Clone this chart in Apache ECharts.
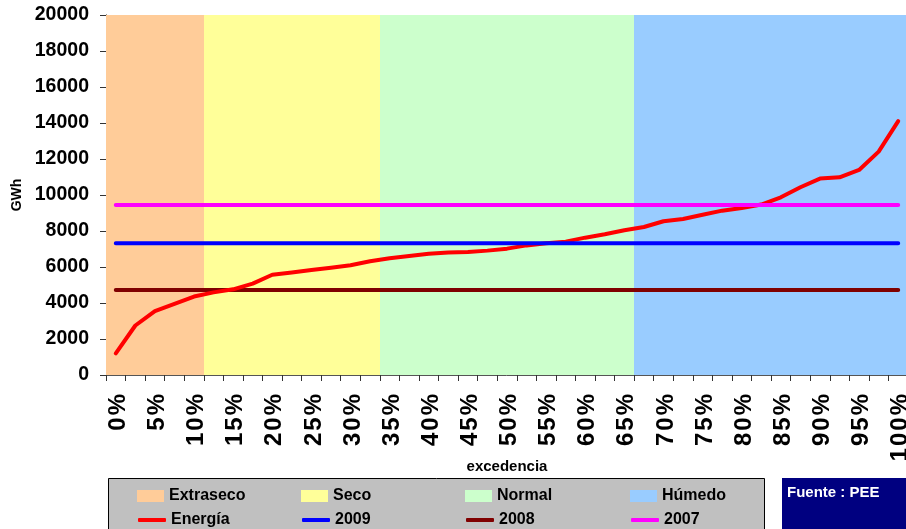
<!DOCTYPE html>
<html>
<head>
<meta charset="utf-8">
<script src="https://cdn.jsdelivr.net/npm/echarts@6/dist/echarts.min.js"></script>
<style>
  html, body { margin: 0; padding: 0; background: #ffffff; overflow: hidden; }
  #chart { width: 906px; height: 529px; }
</style>
</head>
<body>
<div id="chart"></div>
<script>
// Exceedance probability categories (every 2.5 %)
const categories = [
  '0%', '2.5%', '5%', '7.5%', '10%', '12.5%', '15%', '17.5%', '20%', '22.5%',
  '25%', '27.5%', '30%', '32.5%', '35%', '37.5%', '40%', '42.5%', '45%', '47.5%',
  '50%', '52.5%', '55%', '57.5%', '60%', '62.5%', '65%', '67.5%', '70%', '72.5%',
  '75%', '77.5%', '80%', '82.5%', '85%', '87.5%', '90%', '92.5%', '95%', '97.5%',
  '100%'
];

// Energy (GWh) for each exceedance level
const energia = [
  1200, 2750, 3550, 3950, 4360, 4590, 4760, 5080, 5570, 5700,
  5830, 5960, 6100, 6320, 6490, 6610, 6740, 6810, 6830, 6910,
  7020, 7200, 7320, 7410, 7630, 7820, 8040, 8220, 8540, 8670,
  8900, 9130, 9280, 9470, 9870, 10430, 10910, 10980, 11390, 12410,
  14100
];

// Annual energy of reference years (GWh)
const yearNames = ['2009', '2008', '2007'];
const yearValues = [7320, 4720, 9450];

// Hydrological zones: first and last category covered by each one
const zoneNames = ['Extraseco', 'Seco', 'Normal', 'Húmedo'];
const zoneFirstCategory = ['0%', '12.5%', '35%', '67.5%'];
const zoneLastCategory = ['10%', '32.5%', '65%', '100%'];
const zoneTop = 20000;

// Styles
const zoneColors = ['#FFCC99', '#FFFF99', '#CCFFCC', '#99CCFF'];
const yearColors = { '2009': '#0000FF', '2008': '#800000', '2007': '#FF00FF' };
const FONT = "'Liberation Sans', Arial, sans-serif";

const chart = echarts.init(document.getElementById('chart'), null, { renderer: 'canvas' });

// Each zone is one full-band rectangle spanning its categories
function renderZone(params, api) {
  const first = api.value(0);
  const last = api.value(1);
  const topPt = api.coord([first, api.value(2)]);
  const endPt = api.coord([last, 0]);
  const band = api.size([1, 0])[0];
  const x0 = Math.round(topPt[0] - band / 2);
  const x1 = Math.round(endPt[0] + band / 2);
  return {
    type: 'rect',
    shape: { x: x0, y: topPt[1], width: x1 - x0, height: endPt[1] - topPt[1] },
    style: { fill: api.visual('color') }
  };
}

const zoneSeries = zoneNames.map((name, z) => ({
  name,
  type: 'custom',
  renderItem: renderZone,
  data: [[categories.indexOf(zoneFirstCategory[z]), categories.indexOf(zoneLastCategory[z]), zoneTop]],
  encode: { x: [0, 1], y: 2 },
  silent: true,
  clip: false,
  itemStyle: { color: zoneColors[z] },
  emphasis: { disabled: true },
  z: 1
}));

const yearSeries = yearNames.map((name, k) => ({
  name,
  type: 'line',
  data: categories.map(() => yearValues[k]),
  symbol: 'none',
  silent: true,
  lineStyle: { color: yearColors[name], width: 4, cap: 'round' },
  itemStyle: { color: yearColors[name] },
  emphasis: { disabled: true },
  z: name === '2008' ? 2 : 4
}));

const energiaSeries = {
  name: 'Energía',
  type: 'line',
  data: energia,
  symbol: 'none',
  silent: true,
  lineStyle: { color: '#FF0000', width: 4, cap: 'round', join: 'round' },
  itemStyle: { color: '#FF0000' },
  emphasis: { disabled: true },
  z: 3
};

// One legend per item so that they line up in a fixed 4-column table
const legendCols = [137, 301, 465, 630];
const legendText = { fontFamily: FONT, fontSize: 16, fontWeight: 'bold', color: '#000000' };
const legends = [];
zoneNames.forEach((name, i) => legends.push({
  data: [{ name, icon: 'rect' }],
  left: legendCols[i], top: 488, padding: 0,
  itemWidth: 27, itemHeight: 12,
  selectedMode: false,
  textStyle: legendText
}));
['Energía', '2009', '2008', '2007'].forEach((name, i) => legends.push({
  data: [{ name, icon: 'roundRect' }],
  left: legendCols[i] + 1, top: 512, padding: 0,
  itemWidth: 28, itemHeight: 4,
  symbolKeepAspect: false,
  selectedMode: false,
  textStyle: legendText
}));

// Slightly spread characters of the rotated tick labels
function spaced(value) {
  return value.split('').map((ch, i) => (i === 0 ? '{a|' : '{b|') + ch + '}').join('');
}

chart.setOption({
  animation: false,
  backgroundColor: '#ffffff',
  textStyle: { fontFamily: FONT },
  grid: {
    left: 106, right: -2, top: 15, bottom: 154,
    containLabel: false,
    outerBoundsMode: 'none'
  },
  legend: legends,
  graphic: [
    {
      type: 'rect', z: 0,
      shape: { x: 108.5, y: 478.5, width: 656, height: 60 },
      style: { fill: '#C0C0C0', stroke: '#000000', lineWidth: 1 }
    },
    {
      type: 'rect', z: 0,
      shape: { x: 782, y: 478, width: 130, height: 60 },
      style: { fill: '#000080' }
    },
    {
      type: 'text', z: 1,
      x: 787, y: 493,
      style: {
        text: 'Fuente : PEE', fill: '#FFFFFF',
        font: "bold 15px 'Liberation Sans', Arial, sans-serif",
        verticalAlign: 'middle'
      }
    }
  ],
  xAxis: {
    type: 'category',
    data: categories,
    boundaryGap: true,
    name: 'excedencia',
    nameLocation: 'middle',
    nameGap: 84,
    nameMoveOverlap: false,
    nameTextStyle: { fontFamily: FONT, fontSize: 15, fontWeight: 'bold', color: '#000000' },
    axisLine: { show: true, lineStyle: { color: '#555555', width: 1 } },
    axisTick: { show: true, interval: 0, length: 6, lineStyle: { color: '#333333' } },
    axisLabel: {
      interval: 1, rotate: 90, margin: 19,
      padding: [5, 0, 0, 0],
      formatter: spaced,
      fontFamily: FONT, fontSize: 24, fontWeight: 'bold', color: '#000000',
      rich: {
        a: { fontFamily: FONT, fontSize: 24, fontWeight: 'bold', color: '#000000' },
        b: { fontFamily: FONT, fontSize: 24, fontWeight: 'bold', color: '#000000', padding: [0, 0, 0, 2] }
      }
    },
    splitLine: { show: false }
  },
  yAxis: {
    type: 'value',
    min: 0, max: 20000, interval: 2000,
    name: 'GWh',
    nameLocation: 'middle',
    nameRotate: 90,
    nameGap: 75,
    nameTextStyle: { fontFamily: FONT, fontSize: 14, fontWeight: 'bold', color: '#000000' },
    axisLine: { show: true, lineStyle: { color: '#000000', width: 1 } },
    axisTick: { show: true, length: 6, lineStyle: { color: '#333333' } },
    axisLabel: {
      margin: 17,
      formatter: (v) => String(v),
      fontFamily: FONT, fontSize: 19.5, fontWeight: 'bold', color: '#000000'
    },
    splitLine: { show: false }
  },
  series: zoneSeries.concat([yearSeries[1], energiaSeries, yearSeries[0], yearSeries[2]])
});
</script>
</body>
</html>
